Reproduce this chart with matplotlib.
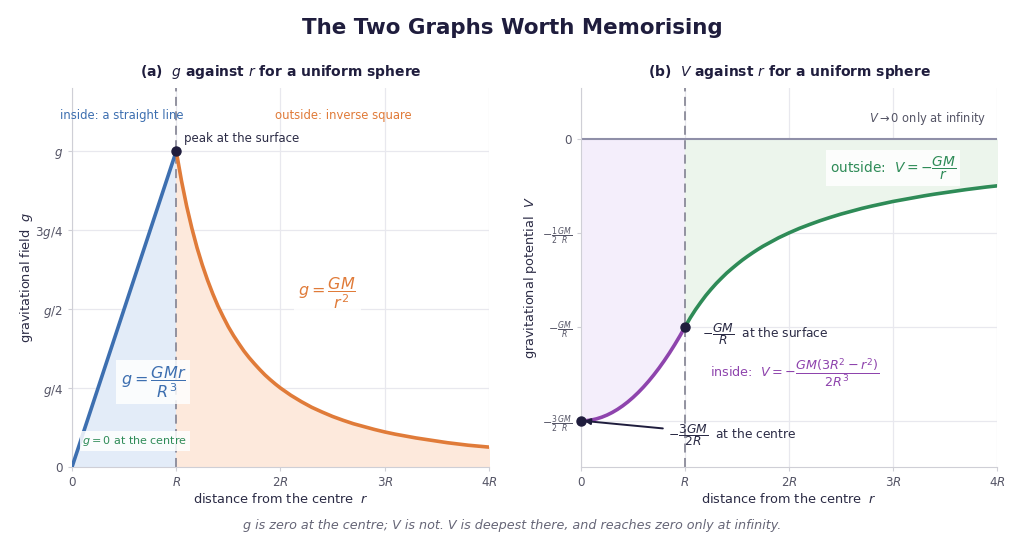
import matplotlib.pyplot as plt

# radius in units of R
r_line = [0.0, 1.0]
g_line = [0.0, 1.0]

r_in = [0.00, 0.05, 0.10, 0.15, 0.20, 0.25, 0.30, 0.35, 0.40, 0.45, 0.50,
        0.55, 0.60, 0.65, 0.70, 0.75, 0.80, 0.85, 0.90, 0.95, 1.00]
V_in = [-1.5000, -1.4988, -1.4950, -1.4888, -1.4800, -1.4688, -1.4550, -1.4388, -1.4200, -1.3988, -1.3750,
        -1.3488, -1.3200, -1.2888, -1.2550, -1.2188, -1.1800, -1.1388, -1.0950, -1.0488, -1.0000]

r_out = [1.00, 1.05, 1.10, 1.15, 1.20, 1.25, 1.30, 1.35, 1.40, 1.45, 1.50,
         1.55, 1.60, 1.65, 1.70, 1.75, 1.80, 1.85, 1.90, 1.95, 2.00,
         2.1, 2.2, 2.3, 2.4, 2.5, 2.6, 2.7, 2.8, 2.9, 3.0,
         3.1, 3.2, 3.3, 3.4, 3.5, 3.6, 3.7, 3.8, 3.9, 4.0]
g_out = [1.000, 0.907, 0.826, 0.756, 0.694, 0.640, 0.592, 0.549, 0.510, 0.476, 0.444,
         0.416, 0.391, 0.367, 0.346, 0.327, 0.309, 0.292, 0.277, 0.263, 0.250,
         0.227, 0.207, 0.189, 0.174, 0.160, 0.148, 0.137, 0.128, 0.119, 0.111,
         0.104, 0.098, 0.092, 0.087, 0.082, 0.077, 0.073, 0.069, 0.066, 0.063]
V_out = [-1.000, -0.952, -0.909, -0.870, -0.833, -0.800, -0.769, -0.741, -0.714, -0.690, -0.667,
         -0.645, -0.625, -0.606, -0.588, -0.571, -0.556, -0.541, -0.526, -0.513, -0.500,
         -0.476, -0.455, -0.435, -0.417, -0.400, -0.385, -0.370, -0.357, -0.345, -0.333,
         -0.323, -0.313, -0.303, -0.294, -0.286, -0.278, -0.270, -0.263, -0.256, -0.250]

x_ticks = [0, 1, 2, 3, 4]
x_labels = ['0', '$R$', '$2R$', '$3R$', '$4R$']
g_ticks = [0, 0.25, 0.5, 0.75, 1.0]
g_labels = ['0', '$g/4$', '$g/2$', '$3g/4$', '$g$']
V_ticks = [0, -0.5, -1.0, -1.5]
V_labels = ['0', r'$-\frac{1}{2}\frac{GM}{R}$', r'$-\frac{GM}{R}$', r'$-\frac{3}{2}\frac{GM}{R}$']

NAVY = '#1f1d3d'
TEXT = '#2b2b45'
GREY = '#555566'
BLUE = '#3d6fb0'
ORANGE = '#e07b39'
GREEN = '#2e8b57'
PURPLE = '#8e44ad'

plt.rcParams['font.family'] = 'DejaVu Sans'
plt.rcParams['mathtext.fontset'] = 'dejavusans'

fig = plt.figure(figsize=(10.24, 5.5), dpi=100)
ax1 = fig.add_axes([0.0703, 0.1509, 0.4072, 0.689])
ax2 = fig.add_axes([0.5674, 0.1509, 0.4063, 0.689])

for ax in (ax1, ax2):
    ax.set_xlim(0, 4)
    ax.set_xticks(x_ticks)
    ax.set_xticklabels(x_labels)
    ax.grid(True, color='#e8e8ee', linewidth=0.9)
    ax.set_axisbelow(True)
    for s in ('top', 'right'):
        ax.spines[s].set_visible(False)
    for s in ('left', 'bottom'):
        ax.spines[s].set_color('#cfcfd6')
    ax.tick_params(colors='#cfcfd6', labelcolor=GREY, labelsize=8.6, length=3)
    ax.axvline(1, color='#8a8a99', linestyle=(0, (5, 3)), linewidth=1.3, zorder=2)
    ax.set_xlabel('distance from the centre  $r$', fontsize=9.3, color=TEXT, labelpad=2)

# (a) g against r
ax1.set_ylim(0, 1.2)
ax1.set_yticks(g_ticks)
ax1.set_yticklabels(g_labels)
ax1.fill_between(r_line, g_line, 0, color='#e3ecf8', zorder=1)
ax1.fill_between(r_out, g_out, 0, color='#fde9dc', zorder=1)
ax1.plot(r_line, g_line, color=BLUE, linewidth=2.6, zorder=3)
ax1.plot(r_out, g_out, color=ORANGE, linewidth=2.6, zorder=3)
ax1.plot([1], [1], 'o', color=NAVY, markersize=6.5, zorder=5)
ax1.set_ylabel('gravitational field  $g$', fontsize=9.3, color=TEXT, labelpad=0)
ax1.set_title(r'(a)  $g$ against $r$ for a uniform sphere', fontsize=10, fontweight='bold',
              color=NAVY, pad=9)

ax1.text(0.48, 1.113, 'inside: a straight line', color=BLUE, fontsize=8.4, ha='center', va='center')
ax1.text(2.6, 1.113, 'outside: inverse square', color=ORANGE, fontsize=8.4, ha='center', va='center')
ax1.text(1.07, 1.04, 'peak at the surface', color=TEXT, fontsize=8.5, ha='left', va='center')
ax1.text(2.45, 0.55, r'$g = \dfrac{GM}{r^2}$', color=ORANGE, fontsize=11.5, ha='center', va='center',
         bbox=dict(facecolor='white', edgecolor='none', alpha=0.85, pad=3))
ax1.text(0.78, 0.27, r'$g = \dfrac{GMr}{R^3}$', color=BLUE, fontsize=11.5, ha='center', va='center',
         bbox=dict(facecolor='white', edgecolor='none', alpha=0.85, pad=3), zorder=4)
ax1.text(0.1, 0.082, '$g = 0$ at the centre', color=GREEN, fontsize=8, ha='left', va='center',
         bbox=dict(facecolor='white', edgecolor='none', alpha=0.85, pad=2), zorder=4)

# (b) V against r
ax2.set_ylim(-1.745, 0.27)
ax2.set_yticks(V_ticks)
ax2.set_yticklabels(V_labels)
for lab in ax2.get_yticklabels()[1:]:
    lab.set_fontsize(8)
ax2.axhline(0, color='#8f8fa8', linewidth=1.5, zorder=2)
ax2.fill_between(r_in, V_in, 0, color='#f4eefb', zorder=1)
ax2.fill_between(r_out, V_out, 0, color='#ecf5ec', zorder=1)
ax2.plot(r_in, V_in, color=PURPLE, linewidth=2.6, zorder=3)
ax2.plot(r_out, V_out, color=GREEN, linewidth=2.6, zorder=3)
ax2.plot([1, 0], [-1, -1.5], 'o', color=NAVY, markersize=6.5, zorder=5, clip_on=False)
ax2.set_ylabel('gravitational potential  $V$', fontsize=9.3, color=TEXT, labelpad=2)
ax2.set_title(r'(b)  $V$ against $r$ for a uniform sphere', fontsize=10, fontweight='bold',
              color=NAVY, pad=9)

ax2.text(3.9, 0.11, r'$V \rightarrow 0$ only at infinity', color=GREY, fontsize=8.3,
         ha='right', va='center')
ax2.text(3.0, -0.155, r'outside:  $V = -\dfrac{GM}{r}$', color=GREEN, fontsize=9.9,
         ha='center', va='center',
         bbox=dict(facecolor='white', edgecolor='none', alpha=0.85, pad=3))
ax2.text(1.16, -1.04, r'$-\dfrac{GM}{R}$  at the surface', color=TEXT, fontsize=8.8,
         ha='left', va='center')
ax2.text(1.24, -1.245, r'inside:  $V = -\dfrac{GM(3R^2 - r^2)}{2R^3}$', color=PURPLE,
         fontsize=9.2, ha='left', va='center')
ax2.annotate(r'$-\dfrac{3GM}{2R}$  at the centre', xy=(0.03, -1.5), xytext=(0.84, -1.575),
             color=TEXT, fontsize=8.8, ha='left', va='center',
             arrowprops=dict(arrowstyle='-|>', color=NAVY, linewidth=1.4, shrinkA=2, shrinkB=0))

fig.suptitle('The Two Graphs Worth Memorising', fontsize=15.4, fontweight='bold', color=NAVY, y=0.968)
fig.text(0.5, 0.045, 'g is zero at the centre; V is not. V is deepest there, and reaches zero only at infinity.',
         ha='center', va='center', fontsize=9.2, style='italic', color='#666677')

fig.savefig('out.png', dpi=100)
